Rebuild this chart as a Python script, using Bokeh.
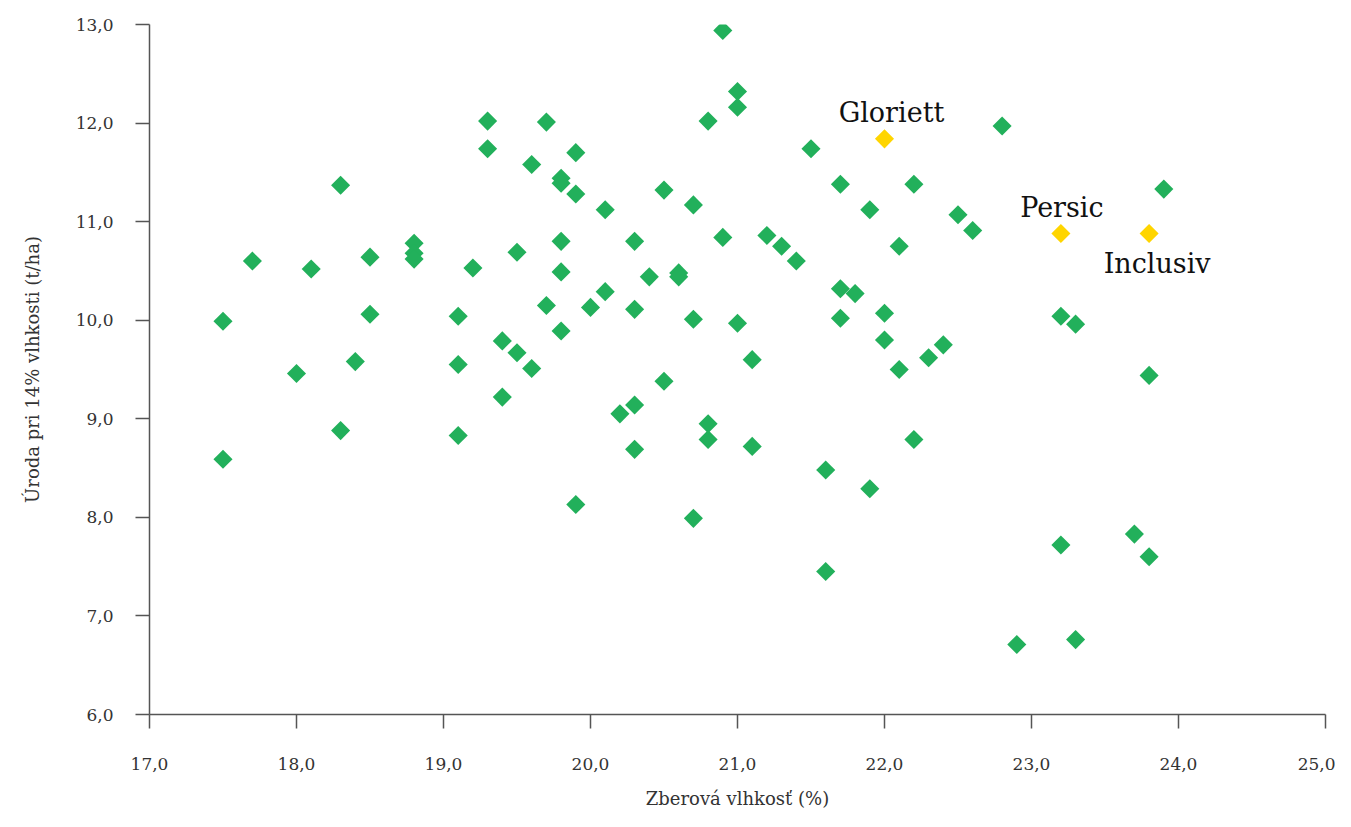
from bokeh.plotting import figure
from bokeh.models import ColumnDataSource, CustomJSTickFormatter, FixedTicker, Range1d
from bokeh.core.properties import value
from bokeh.embed import file_html
from bokeh.resources import INLINE
import math

# Zberová vlhkosť (%) and Úroda pri 14% vlhkosti (t/ha) — other hybrids
moisture = [17.5, 17.5, 17.7, 18.0, 18.1, 18.3, 18.3, 18.4, 18.5, 18.5,
            18.8, 18.8, 18.8, 19.1, 19.1, 19.1, 19.2, 19.3, 19.3, 19.4,
            19.4, 19.5, 19.5, 19.6, 19.6, 19.7, 19.7, 19.8, 19.8, 19.8,
            19.8, 19.8, 19.9, 19.9, 19.9, 20.0, 20.1, 20.1, 20.2, 20.3,
            20.3, 20.3, 20.3, 20.4, 20.5, 20.5, 20.6, 20.6, 20.7, 20.7,
            20.7, 20.8, 20.8, 20.8, 20.9, 20.9, 21.0, 21.0, 21.0, 21.1,
            21.1, 21.2, 21.3, 21.4, 21.5, 21.6, 21.6, 21.7, 21.7, 21.7,
            21.8, 21.9, 21.9, 22.0, 22.0, 22.1, 22.1, 22.2, 22.2, 22.3,
            22.4, 22.5, 22.6, 22.8, 22.9, 23.2, 23.2, 23.3, 23.3, 23.7,
            23.8, 23.8, 23.9]
yield_t = [9.99, 8.59, 10.60, 9.46, 10.52, 11.37, 8.88, 9.58, 10.64, 10.06,
           10.78, 10.68, 10.62, 10.04, 9.55, 8.83, 10.53, 12.02, 11.74, 9.79,
           9.22, 10.69, 9.67, 11.58, 9.51, 12.01, 10.15, 11.44, 11.39, 10.80,
           10.49, 9.89, 11.70, 11.28, 8.13, 10.13, 11.12, 10.29, 9.05, 10.80,
           10.11, 9.14, 8.69, 10.44, 11.32, 9.38, 10.48, 10.44, 11.17, 10.01,
           7.99, 12.02, 8.95, 8.79, 12.94, 10.84, 12.32, 12.16, 9.97, 9.60,
           8.72, 10.86, 10.75, 10.60, 11.74, 8.48, 7.45, 11.38, 10.32, 10.02,
           10.27, 11.12, 8.29, 10.07, 9.80, 10.75, 9.50, 11.38, 8.79, 9.62,
           9.75, 11.07, 10.91, 11.97, 6.71, 10.04, 7.72, 9.96, 6.76, 7.83,
           9.44, 7.60, 11.33]

# Highlighted hybrids
hl_names = ["Gloriett", "Persic", "Inclusiv"]
hl_moisture = [22.0, 23.2, 23.8]
hl_yield = [11.84, 10.88, 10.88]

x_ticks = [17, 18, 19, 20, 21, 22, 23, 24, 25]
y_ticks = [6, 7, 8, 9, 10, 11, 12, 13]

FONT = "DejaVu Serif"
GREEN = "#22B05B"
YELLOW = "#FFD500"

p = figure(width=1335, height=811, output_backend="svg", toolbar_location=None,
           x_range=Range1d(17, 25), y_range=Range1d(6, 13),
           min_border_left=149, min_border_right=10, min_border_top=24, min_border_bottom=90)
p.outline_line_color = None
p.grid.grid_line_color = None

fmt = CustomJSTickFormatter(code="return tick.toFixed(1).replace('.', ',');")
for ax, ticks in ((p.xaxis, x_ticks), (p.yaxis, y_ticks)):
    ax.ticker = FixedTicker(ticks=ticks)
    ax.formatter = fmt
    ax.axis_line_color = "#555555"
    ax.axis_line_width = 1.5
    ax.major_tick_line_color = "#555555"
    ax.major_tick_line_width = 1.5
    ax.major_tick_in = 0
    ax.major_tick_out = 14
    ax.minor_tick_line_color = None
    ax.major_label_text_font = FONT
    ax.major_label_text_font_size = "17px"
    ax.major_label_text_color = "#333333"
    ax.major_label_standoff = 22
    ax.axis_label_text_font = FONT
    ax.axis_label_text_font_size = "18px"
    ax.axis_label_text_font_style = "normal"
    ax.axis_label_text_color = "#333333"

p.xaxis.major_label_standoff = 29
p.xaxis.axis_label = "Zberová vlhkosť (%)"
p.yaxis.axis_label = "Úroda pri 14% vlhkosti (t/ha)"
p.xaxis.axis_label_standoff = 15
p.yaxis.axis_label_standoff = 30

src = ColumnDataSource(dict(x=moisture, y=yield_t))
p.scatter("x", "y", source=src, marker="square", size=13.5, angle=math.pi / 4,
          fill_color=GREEN, line_color=None)

hsrc = ColumnDataSource(dict(x=hl_moisture, y=hl_yield, name=hl_names))
p.scatter("x", "y", source=hsrc, marker="square", size=13.5, angle=math.pi / 4,
          fill_color=YELLOW, line_color=None)

label_style = {"Gloriett": (7, -26), "Persic": (1, -26), "Inclusiv": (8, 30)}
for n, xv, yv in zip(hl_names, hl_moisture, hl_yield):
    dx, dy = label_style[n]
    p.text(x=[xv], y=[yv], text=[n], text_font=value(FONT), text_font_size="27px",
           text_color="#111111", text_align="center", text_baseline="alphabetic",
           x_offset=dx, y_offset=dy)

open("out.html", "w").write(file_html(p, INLINE))
